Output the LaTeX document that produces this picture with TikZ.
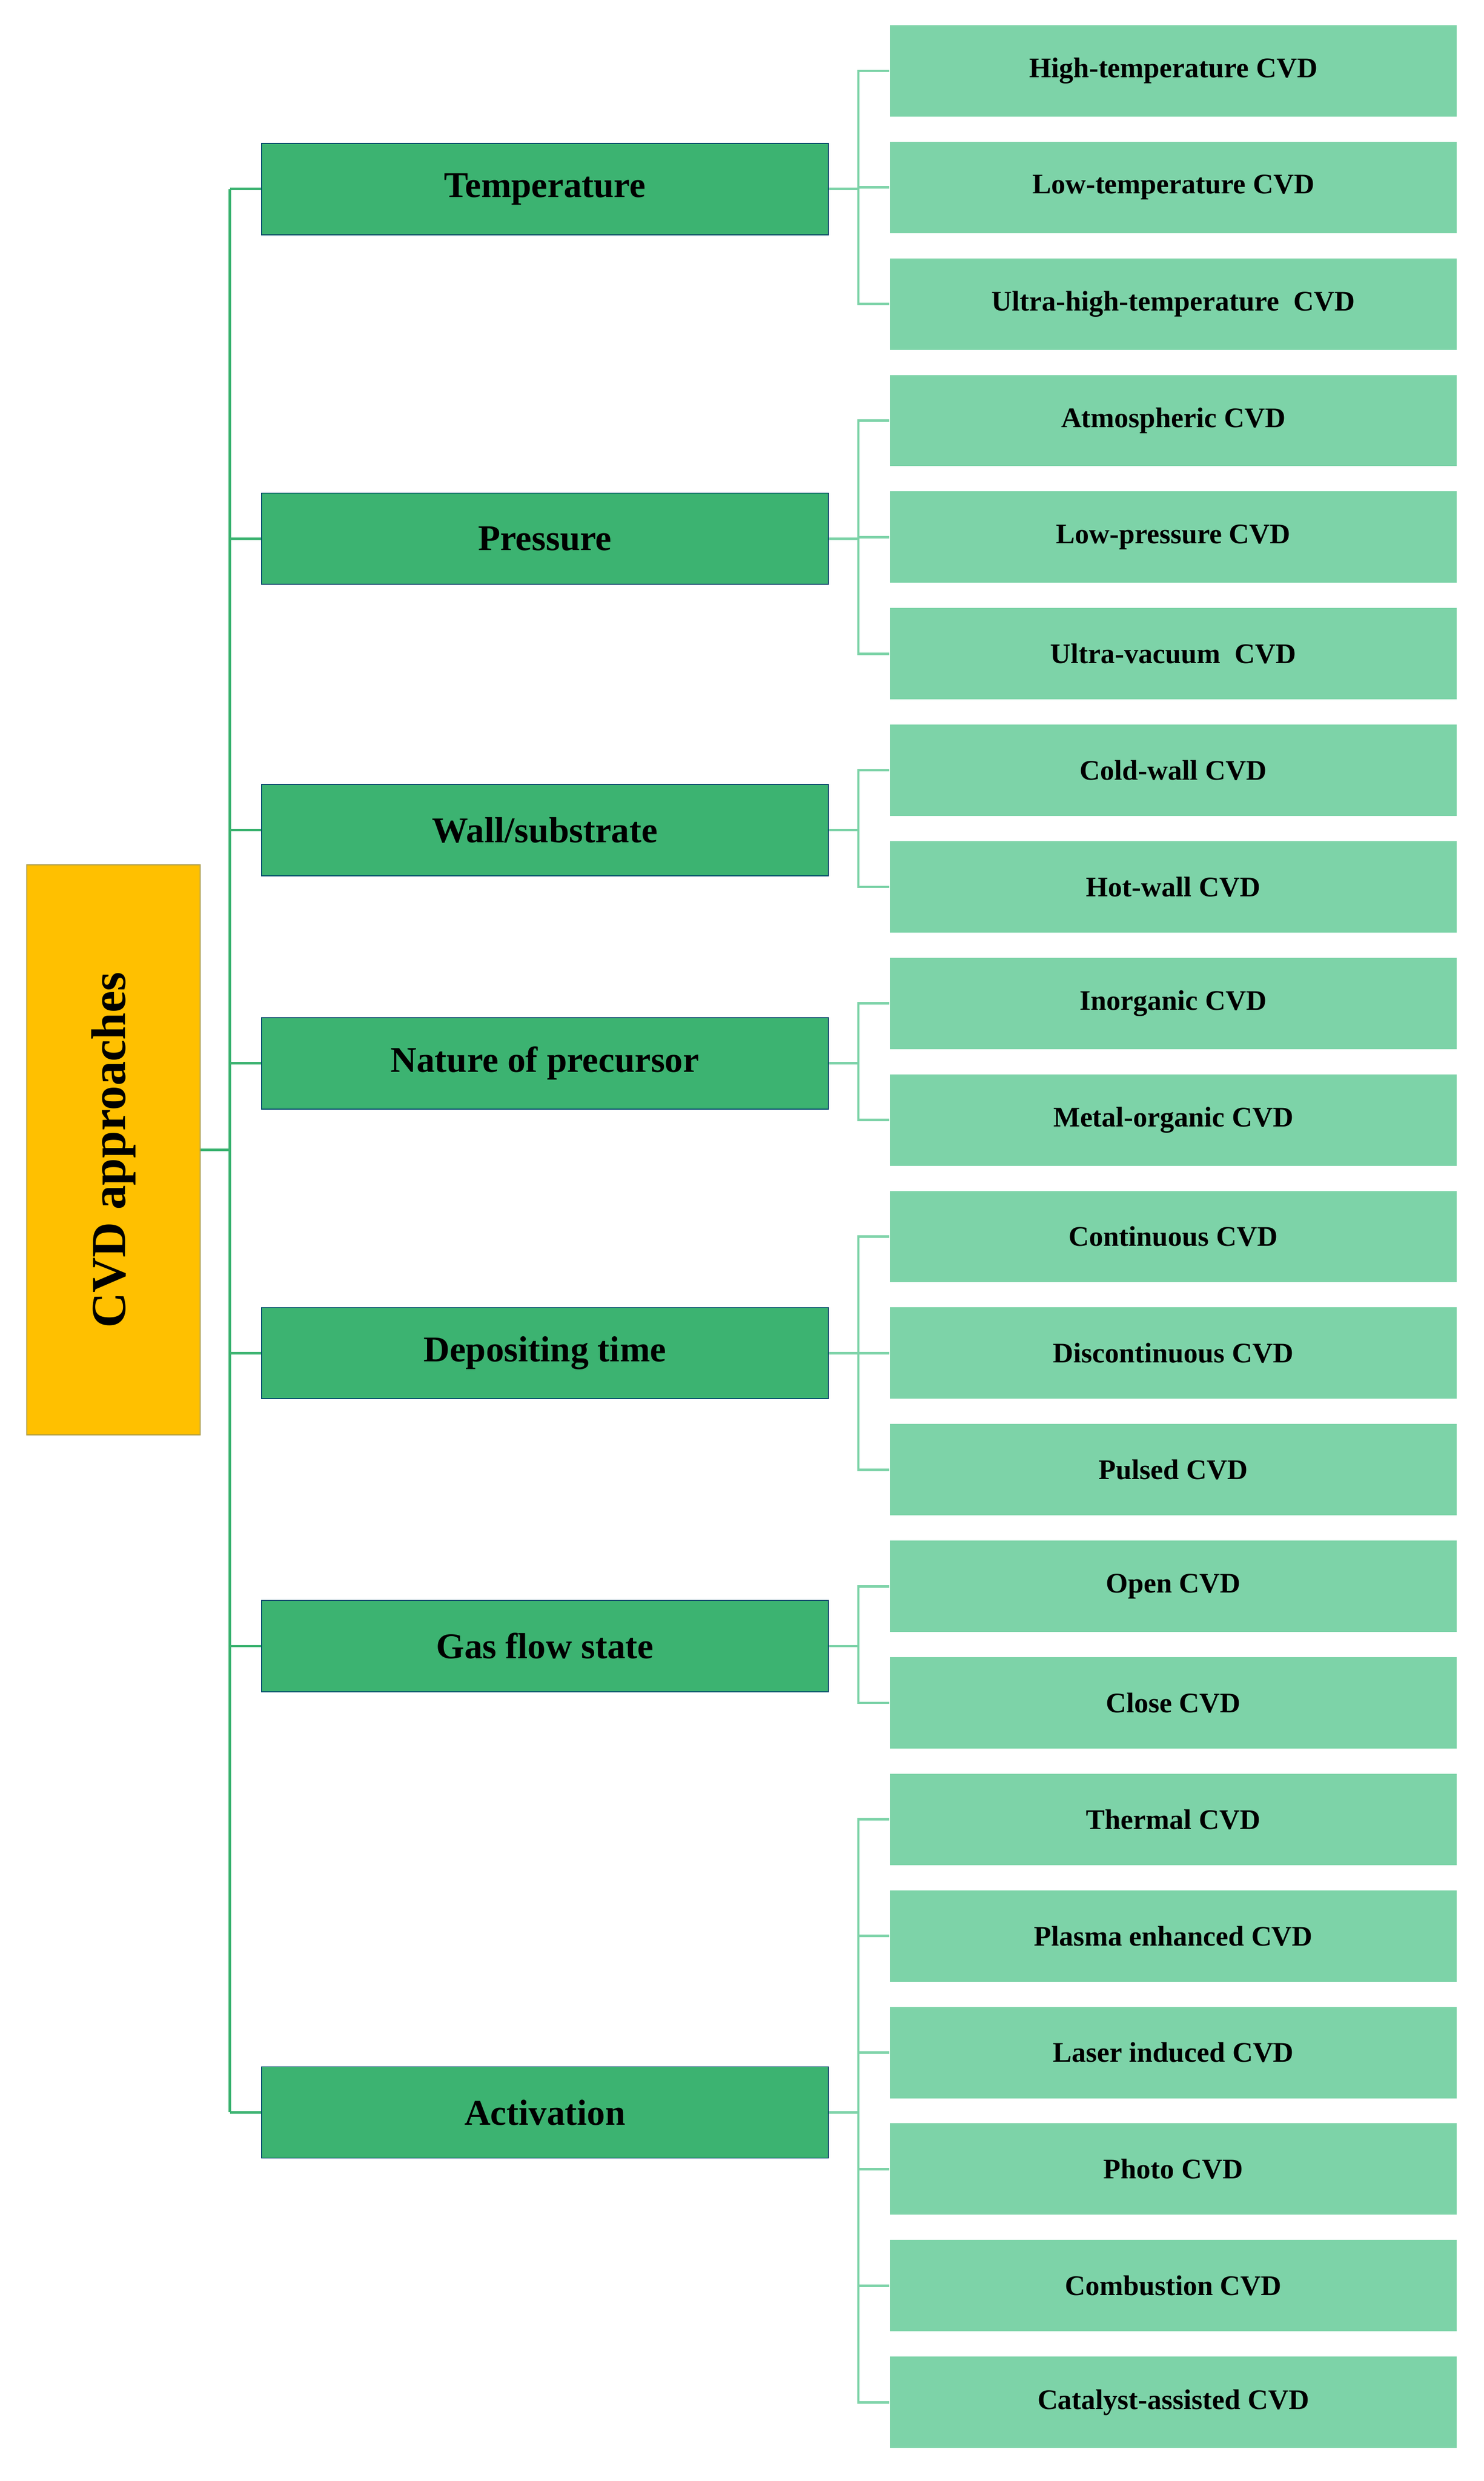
\documentclass[tikz,border=0pt]{standalone}
\usepackage{fontspec}
\setmainfont{Liberation Serif}
\begin{document}
\begin{tikzpicture}[x=1pt,y=-1pt,
  rootbox/.style={draw=black!40!yellow!70!brown,line width=0.6pt,fill=rootc,minimum width=110pt,minimum height=362pt,inner sep=0pt},
  midbox/.style={draw=blue!60!green!70!black,line width=0.6pt,fill=midc,minimum width=360pt,minimum height=58pt,inner sep=0pt,font=\bfseries\fontsize{23}{26}\selectfont},
  leafbox/.style={draw=none,fill=leafc,minimum width=360pt,minimum height=58pt,inner sep=0pt,font=\bfseries\fontsize{18}{21}\selectfont},
  trunk/.style={draw=midc,line width=1.6pt},
  twig/.style={draw=leafc,line width=1.6pt}]
\definecolor{rootc}{RGB}{255,192,0}
\definecolor{midc}{RGB}{60,179,113}
\definecolor{leafc}{RGB}{125,211,168}
\useasboundingbox (0,0) rectangle (942,1575);
\node[rootbox] (root) at (72,730) {};
\node[rotate=90,font=\bfseries\fontsize{31}{34}\selectfont] (roottxt) at (root.center) {CVD approaches};
\coordinate (ttop) at (146,120);
\coordinate (tbot) at (146,1341);
\coordinate (tmid) at (146,730);
\draw[trunk] (ttop) -- (tbot);
\draw[trunk] (root.east) -- (tmid);
\foreach \n/\y/\t in {m1/120/Temperature,m2/342/Pressure,m3/527/Wall\slash substrate,m4/675/Nature of precursor,m5/859/Depositing time,m6/1045/Gas flow state,m7/1341/Activation / power source}{
  \node[midbox] (\n) at (346,\y) {\t};
  \coordinate (\n l) at (146,\y);
  \draw[trunk] (\n l) -- (\n.west);
  \coordinate (\n r) at (545,\y);
  \draw[twig] (\n.east) -- (\n r);
}
\foreach \n/\y/\t/\m in {
 l1/45/High-temperature CVD/m1, l2/119/Low-temperature CVD/m1, l3/193/Ultra-high-temperature\ \ CVD/m1,
 l4/267/Atmospheric CVD/m2, l5/341/Low-pressure CVD/m2, l6/415/Ultra-vacuum\ \ CVD/m2,
 l7/489/Cold-wall CVD/m3, l8/563/Hot-wall CVD/m3,
 l9/637/Inorganic CVD/m4, l10/711/Metal-organic CVD/m4,
 l11/785/Continuous CVD/m5, l12/859/Discontinuous CVD/m5, l13/933/Pulsed CVD/m5,
 l14/1007/Open CVD/m6, l15/1081/Close CVD/m6,
 l16/1155/Thermal CVD/m7, l17/1229/Plasma enhanced CVD/m7, l18/1303/Laser induced CVD/m7,
 l19/1377/Photo CVD/m7, l20/1451/Combustion CVD/m7, l21/1525/Catalyst-assisted CVD/m7}{
  \node[leafbox] (\n) at (745,\y) {\t};
  \coordinate (\n j) at (545,\y);
  \draw[twig] (\m r) -- (\n j) -- (\n.west);
}
\end{tikzpicture}
\end{document}
